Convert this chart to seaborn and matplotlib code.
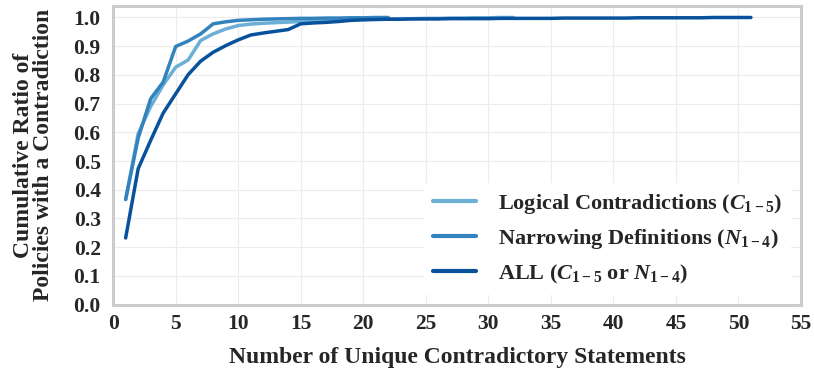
import numpy as np
import pandas as pd
import matplotlib
matplotlib.use("Agg")
import matplotlib.pyplot as plt
import seaborn as sns

# Cumulative ratio of policies with at least k unique contradictory statements
logical_vals = [0.366, 0.595, 0.690, 0.765, 0.827, 0.852, 0.920, 0.943, 0.960, 0.972,
                0.977, 0.980, 0.982, 0.984, 0.986, 0.988, 0.990, 0.991, 0.992, 0.993,
                0.994, 0.995, 0.996, 0.996, 0.997, 0.997, 0.998, 0.998, 0.999, 0.999,
                1.000, 1.000]
narrowing_vals = [0.366, 0.580, 0.717, 0.775, 0.899, 0.918, 0.943, 0.978, 0.985, 0.990,
                  0.992, 0.994, 0.995, 0.996, 0.997, 0.997, 0.998, 0.998, 0.999, 0.999,
                  1.000, 1.000]
all_vals = [0.232, 0.473, 0.572, 0.667, 0.734, 0.801, 0.848, 0.879, 0.902, 0.922,
            0.939, 0.946, 0.952, 0.958, 0.978, 0.981, 0.983, 0.986, 0.990, 0.992,
            0.993, 0.994, 0.994, 0.995, 0.995, 0.995, 0.996, 0.996, 0.996, 0.996,
            0.997, 0.997, 0.997, 0.997, 0.997, 0.998, 0.998, 0.998, 0.998, 0.998,
            0.998, 0.999, 0.999, 0.999, 0.999, 0.999, 0.999, 1.000, 1.000, 1.000,
            1.000]

labels = [r"Logical Contradictions ($C_{1-5}$)",
          r"Narrowing Definitions ($N_{1-4}$)",
          r"ALL ($C_{1-5}$ or $N_{1-4}$)"]
colors = ["#6baed6", "#3182bd", "#08519c"]
x_ticks = list(range(0, 56, 5))
y_ticks = [round(0.1 * i, 1) for i in range(11)]

frames = []
for lab, vals in zip(labels, [logical_vals, narrowing_vals, all_vals]):
    frames.append(pd.DataFrame({"k": np.arange(1, len(vals) + 1),
                                "ratio": vals, "series": lab}))
df = pd.concat(frames, ignore_index=True)

sns.set_style("whitegrid", {"grid.color": "#ececec", "axes.edgecolor": "#cccccc"})
plt.rcParams["font.family"] = ["Liberation Serif", "DejaVu Serif"]
plt.rcParams["font.weight"] = "bold"
plt.rcParams["mathtext.fontset"] = "custom"
plt.rcParams["mathtext.rm"] = "Liberation Serif:bold"
plt.rcParams["mathtext.it"] = "Liberation Serif:bold:italic"
plt.rcParams["mathtext.bf"] = "Liberation Serif:bold"

fig, ax = plt.subplots(figsize=(8.14, 3.76), dpi=100)
sns.lineplot(data=df, x="k", y="ratio", hue="series", palette=colors,
             hue_order=labels, linewidth=2.5, ax=ax)

ax.set_xlim(0, 55)
ax.set_ylim(0, 1.04)
ax.set_xticks(x_ticks)
ax.set_yticks(y_ticks)
ax.set_xticklabels([str(t) for t in x_ticks], fontsize=15.5, fontweight="bold")
ax.set_yticklabels([f"{t:.1f}" for t in y_ticks], fontsize=15.5, fontweight="bold")
ax.tick_params(axis="x", length=0, pad=7)
ax.tick_params(axis="y", length=0, pad=9)
for s in ax.spines.values():
    s.set_linewidth(2.2)
    s.set_color("#cccccc")

ax.set_xlabel("Number of Unique Contradictory Statements", fontsize=17,
              fontweight="bold", labelpad=9)
ax.set_ylabel("Cumulative Ratio of\nPolicies with a Contradiction", fontsize=17,
              fontweight="bold", labelpad=14, linespacing=0.92)

leg = ax.legend(loc="lower right", fontsize=16, frameon=True, facecolor="white",
                edgecolor="none", framealpha=1, handlelength=1.9,
                borderaxespad=0.45, labelspacing=0.52, handletextpad=1.0)
for t in leg.get_texts():
    t.set_fontweight("bold")
for h in leg.get_lines():
    h.set_linewidth(3)

fig.subplots_adjust(left=0.139, right=0.984, top=0.984, bottom=0.19)
fig.savefig("out.png", dpi=100)
